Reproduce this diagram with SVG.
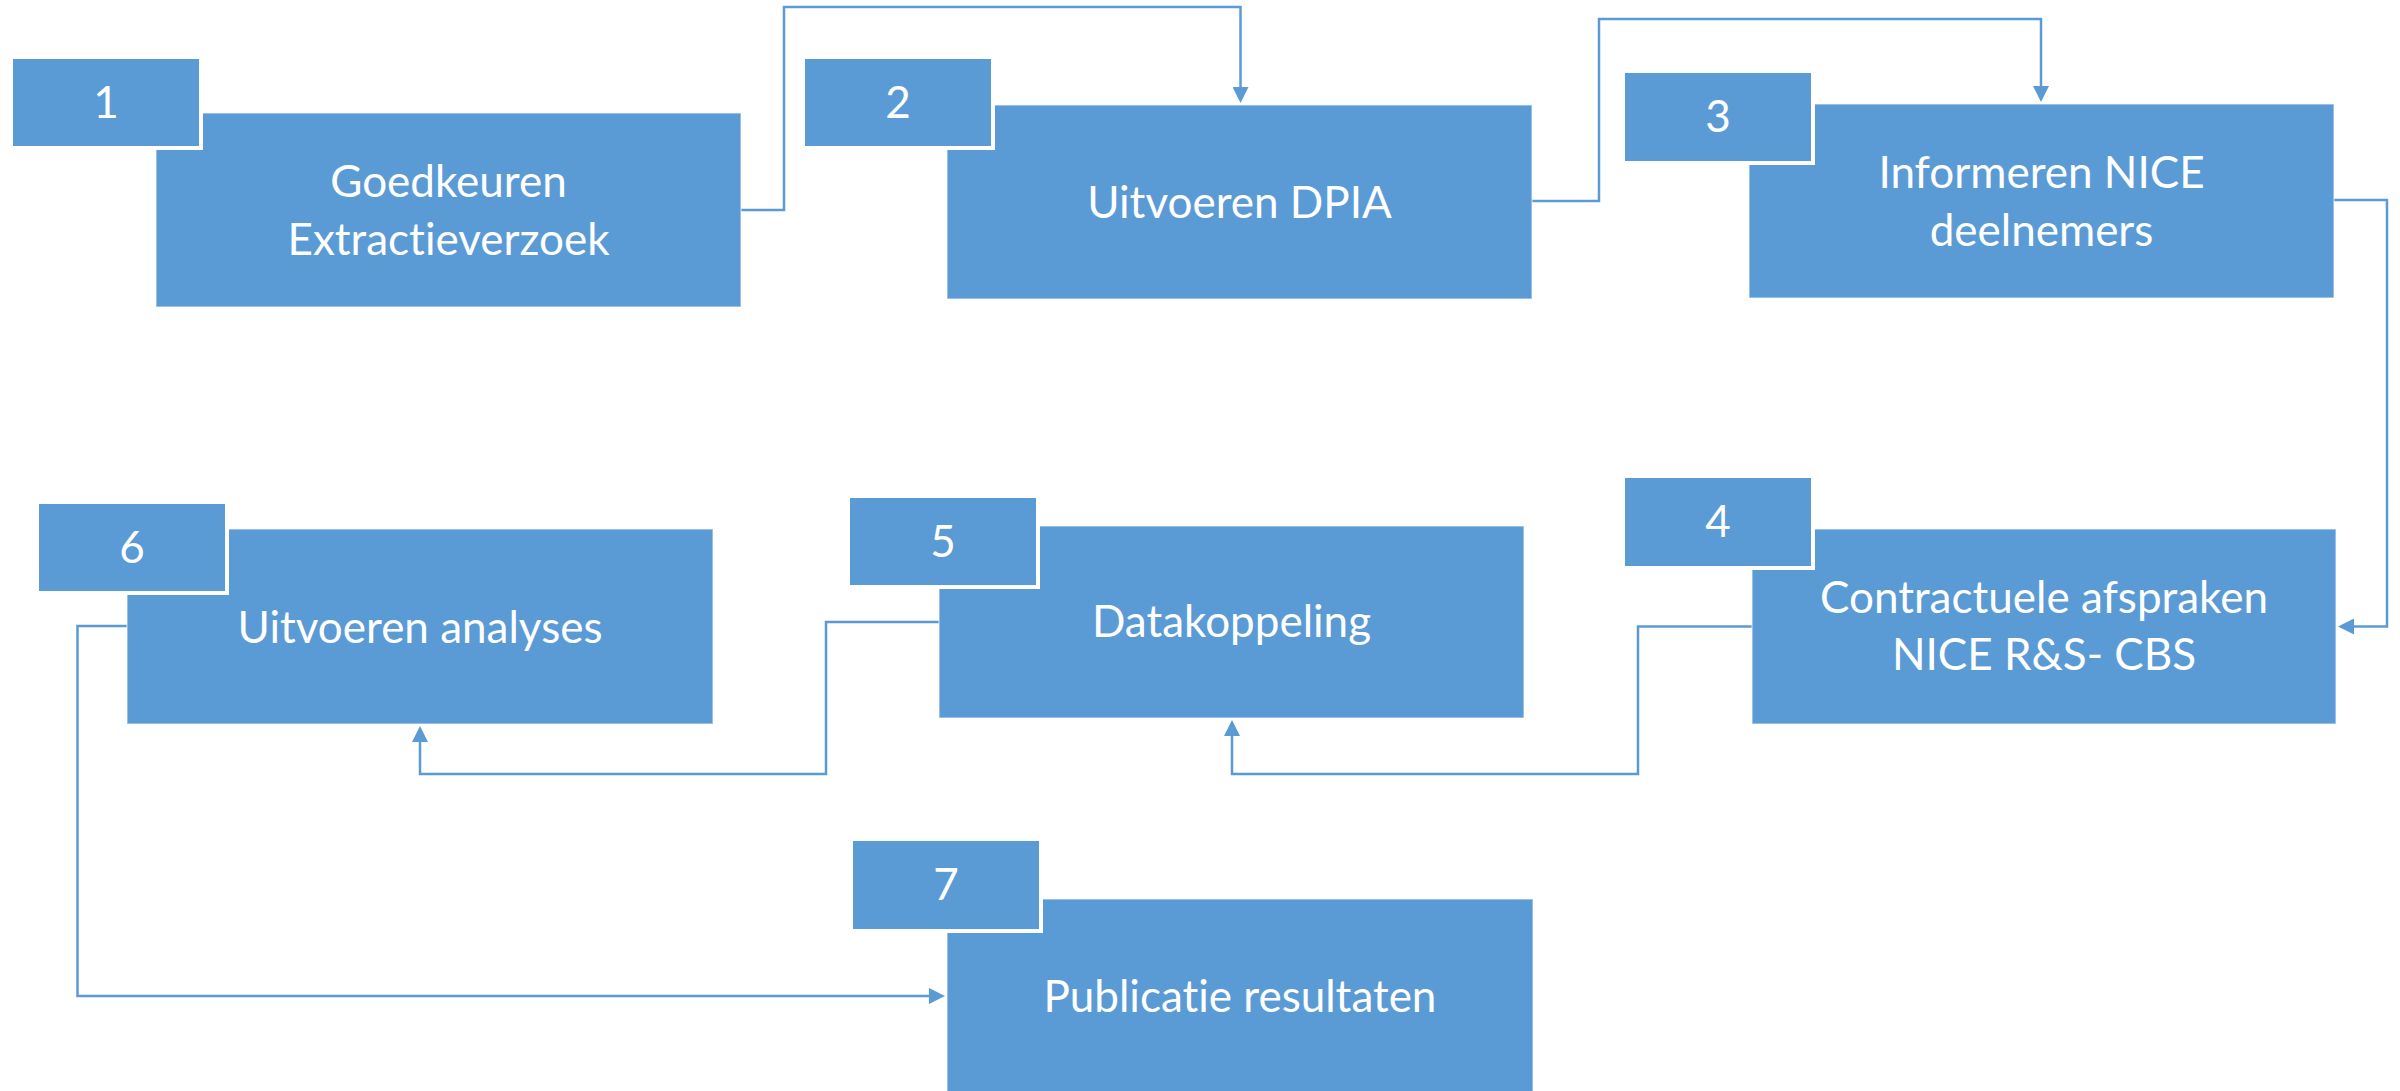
<svg xmlns="http://www.w3.org/2000/svg" width="2400" height="1091" viewBox="0 0 2400 1091">
<style>
.main{fill:#5B9BD5;stroke:#ffffff;stroke-opacity:0.5;stroke-width:1.5}
.num{fill:#5B9BD5;stroke:#ffffff;stroke-width:4}
.t{fill:#ffffff;font-family:Lato,"Open Sans","Liberation Sans",sans-serif;font-size:44px;text-anchor:middle;font-variant-ligatures:none;font-feature-settings:"liga" 0}
.c{fill:none;stroke:#5B9BD5;stroke-width:2.5;marker-end:url(#arr)}
</style>
<defs>
<marker id="arr" markerUnits="userSpaceOnUse" markerWidth="16" markerHeight="16" refX="12" refY="8" orient="auto">
<path d="M0,0 L16,8 L0,16 z" fill="#5B9BD5"/>
</marker>
</defs>
<rect width="2400" height="1091" fill="#ffffff"/>
<g id="connectors">
<path class="c" d="M741,210 H784 V7 H1240.5 V99"/>
<path class="c" d="M1532,201 H1599 V19 H2041 V98"/>
<path class="c" d="M2334,200 H2387 V626.5 H2342"/>
<path class="c" d="M1752,626.5 H1638 V774 H1232 V724"/>
<path class="c" d="M939,622 H826 V774 H420 V730"/>
<path class="c" d="M127,626 H77.5 V996 H941"/>
</g>
<g id="node1">
<rect class="main" x="156" y="113" width="585" height="194"/>
<rect class="num" x="11" y="57" width="190" height="91"/>
<text class="t" x="106" y="118">1</text>
<text class="t" x="448.5" y="197">Goedkeuren</text>
<text class="t" x="448.5" y="255">Extractieverzoek</text>
</g>
<g id="node2">
<rect class="main" x="947" y="105" width="585" height="194"/>
<rect class="num" x="803" y="57" width="190" height="91"/>
<text class="t" x="898" y="118">2</text>
<text class="t" x="1239.5" y="218">Uitvoeren DPIA</text>
</g>
<g id="node3">
<rect class="main" x="1749" y="104" width="585" height="194"/>
<rect class="num" x="1623" y="71" width="190" height="92"/>
<text class="t" x="1718" y="132">3</text>
<text class="t" x="2041.5" y="188">Informeren NICE</text>
<text class="t" x="2041.5" y="246">deelnemers</text>
</g>
<g id="node4">
<rect class="main" x="1752" y="529" width="584" height="195"/>
<rect class="num" x="1623" y="476" width="190" height="92"/>
<text class="t" x="1718" y="537">4</text>
<text class="t" x="2044" y="613">Contractuele afspraken</text>
<text class="t" x="2044" y="670">NICE R&amp;S- CBS</text>
</g>
<g id="node5">
<rect class="main" x="939" y="526" width="585" height="192"/>
<rect class="num" x="848" y="496" width="190" height="91"/>
<text class="t" x="943" y="557">5</text>
<text class="t" x="1231.5" y="637">Datakoppeling</text>
</g>
<g id="node6">
<rect class="main" x="127" y="529" width="586" height="195"/>
<rect class="num" x="37" y="502" width="190" height="91"/>
<text class="t" x="132" y="563">6</text>
<text class="t" x="420" y="643">Uitvoeren analyses</text>
</g>
<g id="node7">
<rect class="main" x="947" y="899" width="586" height="194"/>
<rect class="num" x="851" y="839" width="190" height="92"/>
<text class="t" x="946" y="900">7</text>
<text class="t" x="1240" y="1012">Publicatie resultaten</text>
</g>
</svg>
